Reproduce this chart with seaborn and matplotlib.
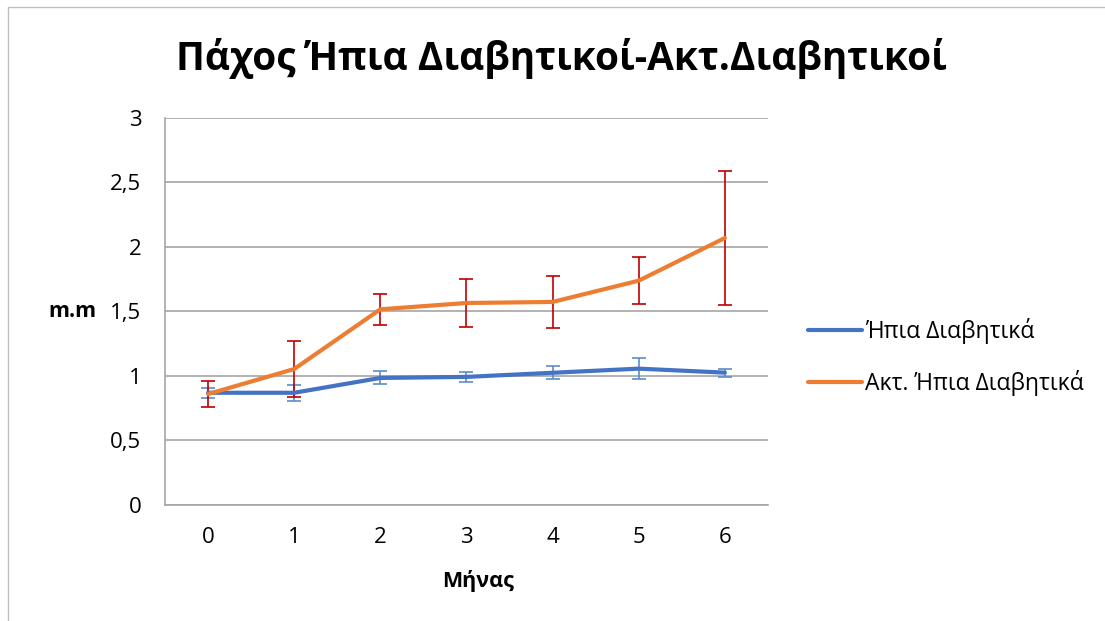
import matplotlib
matplotlib.use("Agg")
import matplotlib.pyplot as plt
from matplotlib.lines import Line2D
import seaborn as sns
import pandas as pd
import numpy as np

months = [0, 1, 2, 3, 4, 5, 6]
series_names = ["Ήπια Διαβητικά", "Ακτ. Ήπια Διαβητικά"]
mild = [0.87, 0.87, 0.985, 0.993, 1.025, 1.057, 1.026]
mild_err = [0.04, 0.06, 0.05, 0.04, 0.05, 0.08, 0.03]
act = [0.86, 1.054, 1.517, 1.566, 1.574, 1.739, 2.07]
act_err = [0.10, 0.215, 0.12, 0.183, 0.203, 0.18, 0.52]
yticks = [0, 0.5, 1, 1.5, 2, 2.5, 3]
ytick_labels = ["0", "0,5", "1", "1,5", "2", "2,5", "3"]

sns.set_theme(style="white")
plt.rcParams["font.family"] = ["Open Sans", "DejaVu Sans"]
plt.rcParams["text.color"] = "black"
plt.rcParams["axes.labelcolor"] = "black"
plt.rcParams["xtick.labelcolor"] = "black"
plt.rcParams["ytick.labelcolor"] = "black"

df = pd.DataFrame({
    "month": months * 2,
    "value": mild + act,
    "series": [series_names[0]] * 7 + [series_names[1]] * 7,
})

fig = plt.figure(figsize=(11.05, 6.21), dpi=100)
ax = fig.add_axes([0.1493, 0.1868, 0.5457, 0.6232])

blue = "#4472C4"
orange = "#ED7D31"

ax.errorbar(months, mild, yerr=mild_err, fmt="none", ecolor="#5B8BD0",
            elinewidth=1.2, capsize=5, capthick=1.2, zorder=2)
ax.errorbar(months, act, yerr=act_err, fmt="none", ecolor="#C00000",
            elinewidth=1.2, capsize=5, capthick=1.2, zorder=2)

sns.lineplot(data=df, x="month", y="value", hue="series",
             palette={series_names[0]: blue, series_names[1]: orange},
             linewidth=3.0, ax=ax, legend=False, zorder=3)

ax.set_xlim(-0.5, 6.5)
ax.set_ylim(0, 3)
ax.set_yticks(yticks)
ax.set_yticklabels(ytick_labels, fontsize=16)
ax.set_xticks(months)
ax.set_xticklabels([str(m) for m in months], fontsize=16)
ax.set_xticks(np.arange(-0.5, 7, 1), minor=True)
ax.tick_params(axis="x", which="major", length=0, pad=16)
ax.tick_params(axis="x", which="minor", length=6, color="#A6A6A6", width=1, direction="out")
ax.tick_params(axis="y", which="major", length=6, color="#A6A6A6", width=1, direction="out", pad=11)
ax.grid(axis="y", color="#A6A6A6", linewidth=1.2)
ax.set_axisbelow(True)
for s in ["top", "right"]:
    ax.spines[s].set_visible(False)
for s in ["left", "bottom"]:
    ax.spines[s].set_color("#A6A6A6")
    ax.spines[s].set_linewidth(1.2)

ax.set_xlabel("Μήνας", fontsize=15.5, fontweight="bold")
ax.xaxis.set_label_coords(0.52, -0.169)
ax.set_ylabel("m.m", fontsize=15.5, fontweight="bold", rotation=0, va="center")
ax.yaxis.set_label_coords(-0.153, 0.50)

fig.text(0.508, 0.905, "Πάχος Ήπια Διαβητικοί-Ακτ.Διαβητικοί", fontsize=27.9,
         fontweight="bold", ha="center", va="center")

handles = [Line2D([0], [0], color=blue, linewidth=3.0),
           Line2D([0], [0], color=orange, linewidth=3.0)]
fig.legend(handles, series_names, loc="center left", bbox_to_anchor=(0.7126, 0.425),
           frameon=False, fontsize=16.5, handlelength=2.36, handletextpad=0.13,
           labelspacing=1.14)

fig.add_artist(Line2D([0.007, 1.0], [0.989, 0.989], color="#BFBFBF", linewidth=1, transform=fig.transFigure))
fig.add_artist(Line2D([0.007, 0.007], [0.0, 0.989], color="#BFBFBF", linewidth=1, transform=fig.transFigure))

fig.savefig("out.png", dpi=100)
